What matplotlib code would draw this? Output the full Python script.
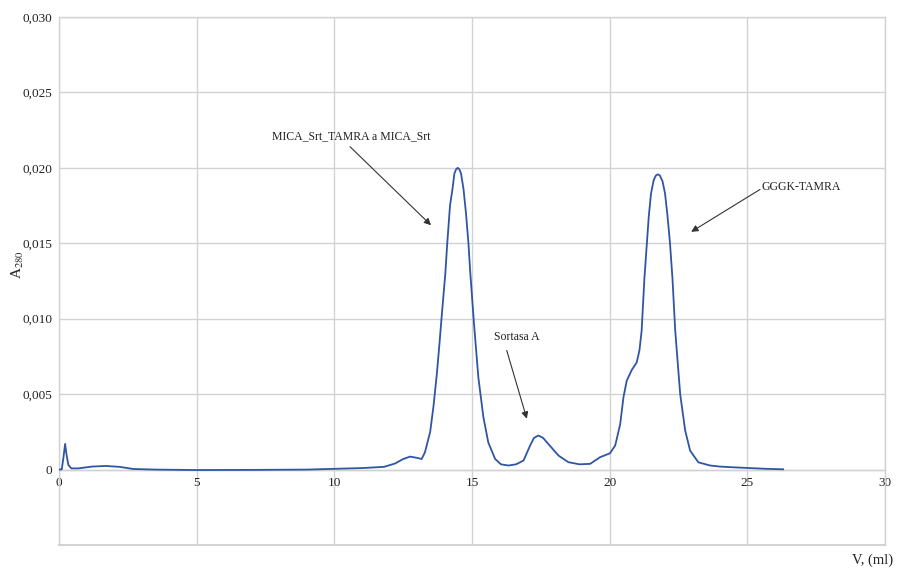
import numpy as np
import matplotlib
matplotlib.use('Agg')
import matplotlib.pyplot as plt
from matplotlib.ticker import FuncFormatter

plt.rcParams['font.family'] = ['Liberation Serif', 'DejaVu Serif']
plt.rcParams['mathtext.fontset'] = 'stix'

# elution volume (ml) and absorbance at 280 nm
vol = [0, 0.1, 0.16, 0.22, 0.28, 0.34, 0.45, 0.7, 1.2, 1.7,
       2.2, 2.7, 3.5, 5, 7, 9, 10, 11, 11.8, 12.2,
       12.5, 12.75, 13.0, 13.17, 13.29, 13.48, 13.6, 13.72, 13.81, 13.9,
       14.03, 14.1, 14.2, 14.29, 14.36, 14.42, 14.48, 14.54, 14.6, 14.69,
       14.78, 14.87, 14.93, 15.07, 15.15, 15.23, 15.41, 15.59, 15.84, 16.05,
       16.32, 16.6, 16.87, 17.11, 17.25, 17.41, 17.58, 17.77, 18.14, 18.5,
       18.9, 19.29, 19.65, 20.01, 20.2, 20.38, 20.5, 20.62, 20.8, 20.98,
       21.08, 21.16, 21.26, 21.35, 21.42, 21.5, 21.6, 21.68, 21.75, 21.82,
       21.92, 22.01, 22.1, 22.19, 22.28, 22.38, 22.56, 22.74, 22.92, 23.22,
       23.65, 24.0, 24.5, 25.1, 25.7, 26.3]
a280 = [0, 0.00002, 0.0008, 0.0017, 0.0009, 0.0003, 0.00008, 0.00008, 0.0002, 0.00024,
        0.00018, 0.00004, 0.0, -0.00003, -0.00002, 0.0, 0.00005, 0.0001, 0.00018, 0.0004,
        0.0007, 0.00086, 0.00078, 0.0007, 0.00115, 0.0025, 0.0042, 0.0063, 0.0082, 0.0102,
        0.0130, 0.0150, 0.0175, 0.0186, 0.01963, 0.0199, 0.0200, 0.0199, 0.01963, 0.0186,
        0.0170, 0.0150, 0.0132, 0.0097, 0.0079, 0.0061, 0.0035, 0.0018, 0.0007, 0.00035,
        0.00027, 0.00035, 0.0006, 0.0016, 0.0021, 0.00226, 0.0021, 0.0017, 0.00093, 0.00049,
        0.00035, 0.00038, 0.00082, 0.00108, 0.0016, 0.003, 0.0048, 0.0059, 0.0066, 0.0071,
        0.0079, 0.0092, 0.01266, 0.0150, 0.0168, 0.0183, 0.0192, 0.0195, 0.01957, 0.0195,
        0.0191, 0.0183, 0.0168, 0.0150, 0.01266, 0.0092, 0.0050, 0.0026, 0.00126, 0.00048,
        0.00027, 0.0002, 0.00015, 0.0001, 0.00005, 0.00002]

xticks = [0, 5, 10, 15, 20, 25, 30]
yticks = [0, 0.005, 0.010, 0.015, 0.020, 0.025, 0.030]

labels = ['MICA_Srt_TAMRA a MICA_Srt', 'Sortasa A', 'GGGK-TAMRA']
label_xy = [(10.6, 0.0221), (16.62, 0.0088), (25.52, 0.0187)]
arrow_from = [(10.57, 0.0214), (16.26, 0.0079), (25.46, 0.01857)]
arrow_to = [(13.51, 0.0162), (16.99, 0.00337), (22.96, 0.01576)]

fig = plt.figure(figsize=(9.11, 5.71), dpi=100)
ax = fig.add_axes([0.0648, 0.0455, 0.9067, 0.9247])

grey = '#d2d2d2'
ax.set_xlim(0, 30)
ax.set_ylim(-0.005, 0.030)
ax.set_xticks(xticks)
ax.set_yticks(yticks)
ax.grid(True, color=grey, lw=1)
ax.set_axisbelow(True)
for s in ax.spines.values():
    s.set_color(grey)
    s.set_linewidth(1)
ax.spines['bottom'].set_position(('data', 0))
ax.axhline(-0.005, color=grey, lw=1.5, clip_on=False)
ax.tick_params(length=0, labelsize=9.5, colors='#222222', pad=5)

def fmt(v, pos):
    if abs(v) < 1e-12:
        return '0'
    return ('%.3f' % v).replace('.', ',')
ax.yaxis.set_major_formatter(FuncFormatter(fmt))

ax.plot(vol, a280, color='#2f55a4', lw=1.3, zorder=3, solid_joinstyle='round')

for (lab, (tx, ty)) in zip(labels, label_xy):
    ha = 'left' if lab == 'GGGK-TAMRA' else 'center'
    ax.text(tx, ty, lab, ha=ha, va='center', fontsize=8.5, color='#222222')
for (p0, p1) in zip(arrow_from, arrow_to):
    ax.annotate('', xy=p1, xytext=p0,
                arrowprops=dict(arrowstyle='-|>', color='#333333', lw=0.8,
                                mutation_scale=10, shrinkA=0, shrinkB=0))

fig.text(18 / 911, 1 - 265 / 571, 'A$_{280}$', rotation=90, ha='center', va='center',
         fontsize=11, color='#222222')
fig.text(873 / 911, 1 - 560 / 571, 'V, (ml)', ha='center', va='center',
         fontsize=10.5, color='#222222')

fig.savefig('out.png', dpi=100)
